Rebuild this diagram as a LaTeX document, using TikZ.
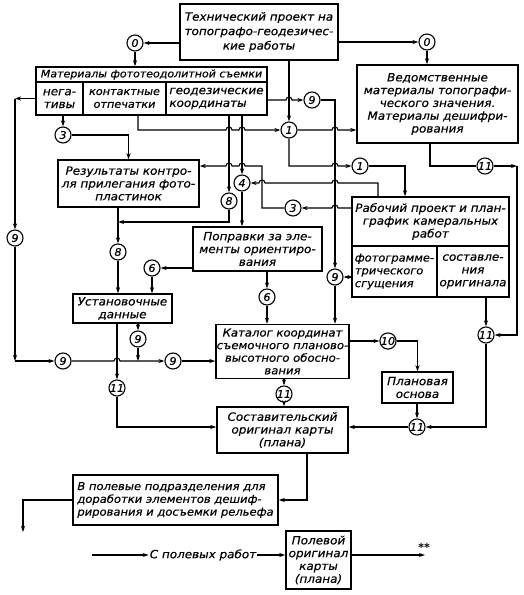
\documentclass[tikz,border=0pt]{standalone}
\usepackage{fontspec}
\setmainfont{DejaVu Sans}
\newfontfamily\dfont{DejaVu Sans}[FakeStretch=1.06,FakeBold=0.4]
\usetikzlibrary{arrows.meta}
\newcommand\hopR[2]{-- (#1-3,#2) arc[start angle=180,end angle=0,radius=3pt]}
\newcommand\hopL[2]{-- (#1+3,#2) arc[start angle=0,end angle=180,radius=3pt]}
\begin{document}
\begin{tikzpicture}[x=1pt,y=-1pt,
  font=\dfont\itshape\fontsize{11.3}{12.8}\selectfont,
  box/.style={draw,line width=1.5pt,inner sep=0pt,align=center},
  num/.style={draw,circle,line width=1.1pt,minimum size=16pt,inner sep=0pt,fill=white,font=\dfont\itshape\fontsize{10.5}{12}\selectfont},
  ln/.style={line width=1.1pt},
  ar/.style={ln,-{Stealth[length=6pt,width=4pt]}},
]
\useasboundingbox (0,0) rectangle (523,595);
% boxes
\node[box,minimum width=158pt,minimum height=56pt,font=\dfont\itshape\fontsize{11.3}{14.5}\selectfont] (top) at (259,32) {Технический проект на\\топографо-геодезичес-\\кие работы};
\node[box,minimum width=231pt,minimum height=15pt,font=\dfont\itshape\fontsize{10.4}{12}\selectfont] (matH) at (151.5,74.5) {Материалы фототеодолитной съемки};
\node[box,minimum width=47pt,minimum height=33pt] (neg) at (59.5,98.5) {нега-\\тивы};
\node[box,minimum width=83pt,minimum height=33pt,font=\dfont\itshape\fontsize{10.6}{12.8}\selectfont] (kont) at (124.5,98.5) {контактные\\отпечатки};
\node[box,minimum width=101pt,minimum height=33pt,align=left] (geo) at (216.5,98.5) {геодезические\\координаты};
\node[box,minimum width=161pt,minimum height=78pt] (ved) at (437.5,104) {Ведомственные\\материалы топографи-\\ческого значения.\\Материалы дешифри-\\рования};
\node[box,minimum width=141pt,minimum height=47pt] (rez) at (128.5,183.5) {Результаты контро-\\ля прилегания фото-\\пластинок};
\node[box,minimum width=157pt,minimum height=49pt] (rabH) at (430.5,221.5) {Рабочий проект и план-\\график камеральных\\работ};
\node[box,minimum width=85pt,minimum height=51pt,align=left,font=\dfont\itshape\fontsize{10.8}{12.8}\selectfont] (rabA) at (394.5,271.5) {фотограмме-\\трического\\сгущения};
\node[box,minimum width=72pt,minimum height=51pt] (rabB) at (473,271.5) {составле-\\ния\\оригинала};
\node[box,minimum width=129pt,minimum height=44pt] (popr) at (257.5,249) {Поправки за эле-\\менты ориентиро-\\вания};
\node[box,minimum width=99pt,minimum height=29pt] (ust) at (122.5,308.5) {Установочные\\данные};
\node[box,minimum width=133pt,minimum height=54pt,font=\dfont\itshape\fontsize{11}{12.6}\selectfont] (kat) at (282.5,351.5) {Каталог координат\\съемочного планово-\\высотного обосно-\\вания};
\node[box,minimum width=71pt,minimum height=31pt] (plan) at (417.5,387.5) {Плановая\\основа};
\node[box,minimum width=131pt,minimum height=46pt] (sost) at (282.5,430) {Составительский\\оригинал карты\\(плана)};
\node[box,minimum width=205pt,minimum height=50pt,align=left,font=\dfont\itshape\fontsize{10.9}{12.8}\selectfont] (vpol) at (175.5,500) {В полевые подразделения для\\доработки элементов дешиф-\\рирования и досъемки рельефа};
\node[box,minimum width=65pt,minimum height=58pt] (polev) at (318.5,560) {Полевой\\оригинал\\карты\\(плана)};
\node[inner sep=1pt] (from) at (203,555) {С полевых работ};
\node[inner sep=0pt,font=\bfseries\fontsize{11}{12}\selectfont] (star) at (424,547) {**};
% circles
\node[num] (c0L) at (135,43) {0};
\node[num] (c0R) at (427,42) {0};
\node[num] (c9a) at (312,100) {9};
\node[num] (c1a) at (289,130) {1};
\node[num] (c3L) at (63,135) {3};
\node[num] (c1b) at (360,166) {1};
\node[num] (c11a) at (485,166) {11};
\node[num] (c4) at (242,183) {4};
\node[num] (c8a) at (229,201) {8};
\node[num] (c3R) at (293,208) {3};
\node[num] (c9L) at (15,238) {9};
\node[num] (c8b) at (118,252) {8};
\node[num] (c6L) at (152,268) {6};
\node[num] (c9R) at (335,277) {9};
\node[num] (c6) at (267,297) {6};
\node[num] (c11R) at (486,335) {11};
\node[num] (c9b) at (138,339) {9};
\node[num] (c10) at (388,341) {10};
\node[num] (c9c) at (63,361) {9};
\node[num] (c9d) at (173,361) {9};
\node[num] (c11L) at (117,388) {11};
\node[num] (c11c) at (284,394) {11};
\node[num] (c11d) at (417,427) {11};
\coordinate (bs) at (92,555);
\coordinate (be) at (425,555);
\coordinate (dl) at (23,532);
% connectors
\draw[ar] (top.west|-c0L) -- (c0L);
\draw[ar] (c0L) -- (c0L|-matH.north);
\draw[ar] (top.east|-c0R) -- (c0R);
\draw[ar] (c0R) -- (c0R|-ved.north);
\draw[ar] (c1a|-top.south) -- (c1a);
\draw[ar] (geo.east|-c9a) \hopR{289}{100} -- (c9a);
\draw[ar] (c9a) -- (335,100) -- (c9R);
\draw[ar] (c1a) \hopR{335}{130} -- (ved.west|-c1a);
\draw[ar] ([xshift=13.5pt]kont.south) -- (138,130) \hopR{229}{130} \hopR{242}{130} -- (c1a);
\draw[ar] (neg.south-|c3L) -- (c3L);
\draw[ar] (c3L) -| (rez.north);
\draw[ar] (geo.south-|c8a) -- (c8a);
\draw[ar] (geo.south-|c4) -- (c4);
\draw[ar] (c8a) -- (229,222) -- (118,222);
\draw[ar] (rez.south-|c8b) -- (c8b);
\draw[ar] (c8b) -- (c8b|-ust.north);
\draw[ar] (c4) -- (c4|-popr.north);
\draw[ar] ([xshift=-52.5pt]rabH.north) -- (378,183) \hopL{335}{183} \hopL{262}{183} -- (c4);
\draw[ar] (c1a) -- (289,166) \hopR{335}{166} -- (c1b);
\draw[ar] (c1b) -| ([xshift=-25.5pt]rabH.north);
\draw[ar] (rabH.west|-c3R) \hopL{335}{208} -- (c3R);
\draw[ar] (c3R) -- (262,208) -- (262,166) \hopL{242}{166} \hopL{229}{166} -- (rez.east|-c1b);
\draw[ar] (rabA.west|-c9R) -- (c9R);
\draw[ar] (c9R) -- (c9R|-kat.north);
\draw[ar] (popr.south-|c6) -- (c6);
\draw[ar] (c6) -- (c6|-kat.north);
\draw[ar] (popr.west|-c6L) -- (c6L);
\draw[ar] (c6L) -- (c6L|-ust.north);
\draw[ln] ([xshift=-7.5pt]ved.south) |- (c11a);
\draw[ar] (c11a) -- (517,166);
\draw[ar] (517,166) -- (517,335) -- (c11R);
\draw[ar] (rabB.south-|c11R) -- (c11R);
\draw[ar] (c11R) |- (c11d);
\draw[ar] (plan.south-|c11d) -- (c11d);
\draw[ar] (c11d) -- (sost.east|-c11d);
\draw[ar] (kat.east|-c10) -- (c10);
\draw[ar] (c10) -| (plan.north);
\draw[ar] (kat.south-|c11c) -- (c11c);
\draw[ar] (c11c) -- (c11c|-sost.north);
\draw[ar] (neg.west) -- (15,98.5);
\draw[ar] (15,98.5) -- (c9L);
\draw[ar] (c9L) -- (15,361);
\draw[ar] (15,361) -- (c9c);
\draw[ar] (c9c) \hopR{117}{361} -- (c9d);
\draw[ar] (c9d) -- (kat.west|-c9d);
\draw[ar] (ust.south-|c9b) -- (c9b);
\draw[ar] (c9b) -- (138,361);
\draw[ar] (ust.south-|c11L) -- (c11L);
\draw[ar] (c11L) |- (sost.west|-c11d);
\draw[ar] ([xshift=24.5pt]sost.south) |- (vpol.east);
\draw[ar] (vpol.west) -| (dl);
\draw[ar] (bs) -- (from.west);
\draw[ar] (from.east) -- (polev.west|-from);
\draw[ar] (polev.east|-from) -- (be);
\end{tikzpicture}
\end{document}
